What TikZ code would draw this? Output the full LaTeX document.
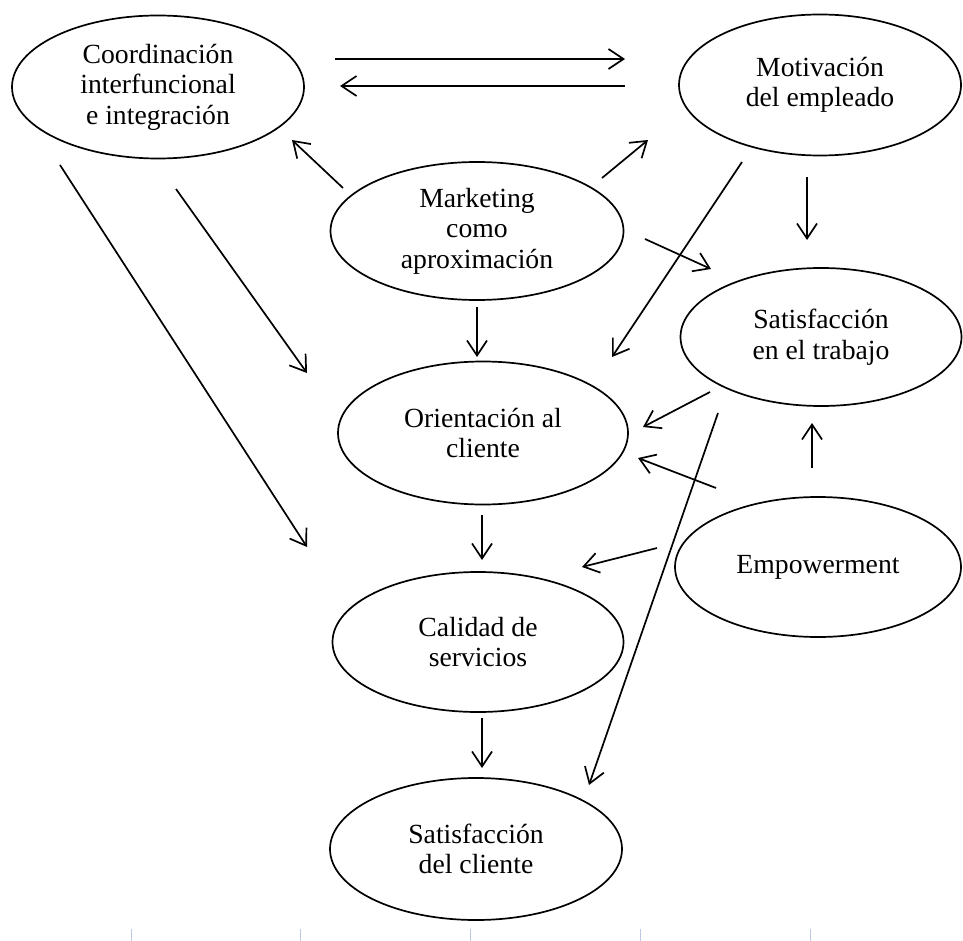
\documentclass[tikz,border=0pt]{standalone}
\usepackage{fontspec}
\setmainfont{Liberation Serif}
\usetikzlibrary{shapes.geometric,arrows.meta}
\tikzset{
  oval/.style={ellipse,draw,line width=1.7pt,inner sep=0pt,align=center,
    font=\fontsize{27.7}{30.5}\selectfont},
  link/.style={line width=1.7pt,-{Straight Barb[length=15pt,width=20pt]}},
  tick/.style={draw={rgb,255:red,190;green,200;blue,228},line width=1pt}
}
\begin{document}
\begin{tikzpicture}[x=1pt,y=-1pt]
\useasboundingbox (0,0) rectangle (963,941);
\fill[white] (0,0) rectangle (963,941);
% nodes
\node[oval,minimum width=292pt,minimum height=143pt] (coord) at (158,87) {Coordinación\\interfuncional\\e integración};
\node[oval,minimum width=282pt,minimum height=141pt] (motiv) at (820,85) {Motivación\\del empleado};
\node[oval,minimum width=293pt,minimum height=138pt] (mkt) at (477,231) {Marketing\\como\\aproximación};
\node[oval,minimum width=281pt,minimum height=138pt] (sattrab) at (821,337) {Satisfacción\\en el trabajo};
\node[oval,minimum width=290pt,minimum height=143pt] (orient) at (483,433) {Orientación al\\cliente};
\node[oval,minimum width=286pt,minimum height=140pt] (empow) at (818,567) {Empowerment};
\node[oval,minimum width=291pt,minimum height=140pt] (calidad) at (478,642) {Calidad de\\servicios};
\node[oval,minimum width=292pt,minimum height=142pt] (satcli) at (476,849) {Satisfacción\\del cliente};
% arrow end points
\coordinate (a1s) at (335,59);  \coordinate (a1e) at (625,59);
\coordinate (a2s) at (625,86);  \coordinate (a2e) at (340,86);
\coordinate (a3s) at (343,188); \coordinate (a3e) at (292,140);
\coordinate (a4s) at (602,178); \coordinate (a4e) at (648,140);
\coordinate (a5s) at (807,177); \coordinate (a5e) at (807,240);
\coordinate (a6s) at (742,162); \coordinate (a6e) at (612,357);
\coordinate (a7s) at (645,239); \coordinate (a7e) at (711,269);
\coordinate (a8s) at (477,307); \coordinate (a8e) at (477,357);
\coordinate (a9s) at (176,189); \coordinate (a9e) at (307,373);
\coordinate (a10s) at (60,165); \coordinate (a10e) at (307,547);
\coordinate (a11s) at (710,392); \coordinate (a11e) at (643,427);
\coordinate (a12s) at (718,413); \coordinate (a12e) at (589,785);
\coordinate (a13s) at (716,488); \coordinate (a13e) at (638,458);
\coordinate (a14s) at (812,468); \coordinate (a14e) at (812,423);
\coordinate (a15s) at (657,548); \coordinate (a15e) at (582,567);
\coordinate (a16s) at (482,515); \coordinate (a16e) at (482,560);
\coordinate (a17s) at (482,718); \coordinate (a17e) at (482,768);
% connectors
\foreach \i in {1,...,17} {\draw[link] (a\i s) -- (a\i e);}
% ruler ticks
\foreach \x [count=\k] in {131,300,470,640,810} {
  \coordinate (t\k a) at (\x,929); \coordinate (t\k b) at (\x,941);
  \draw[tick] (t\k a) -- (t\k b);}
\end{tikzpicture}
\end{document}
